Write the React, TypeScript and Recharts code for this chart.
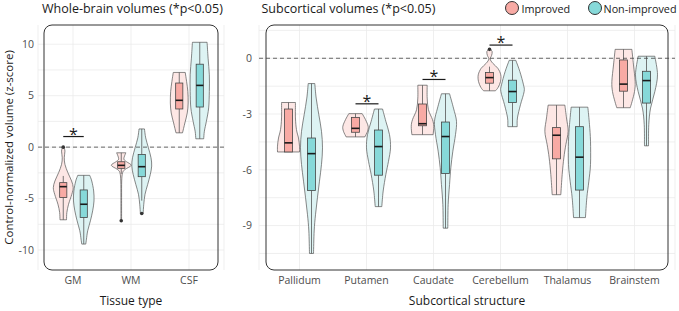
import React from 'react';
import {
  ComposedChart,
  Bar,
  XAxis,
  YAxis,
  CartesianGrid,
  ReferenceLine,
  ReferenceArea,
} from 'recharts';

// ---------------- DATA ----------------
// box stats: [lower whisker, Q1, median, Q3, upper whisker]
const tissueCategories = ['GM', 'WM', 'CSF'];
const tissueImprovedBox = [
  [-7.06, -4.9, -3.84, -3.45, -2.8],
  [-2.6, -2.06, -1.77, -1.42, -0.55],
  [1.39, 3.71, 4.55, 6.23, 7.26],
];
const tissueNonImprovedBox = [
  [-9.42, -6.84, -5.55, -4.16, -2.74],
  [-5.2, -2.87, -1.9, -0.71, 1.77],
  [0.81, 3.9, 6.0, 8.06, 10.19],
];
const tissueImprovedOutliers = [[0], [-7.16], []];
const tissueNonImprovedOutliers = [[], [-6.45], []];
// violin density profiles: [value, relative density]
const tissueImprovedViolin = [
  [[0, 0.06], [-0.39, 0.15], [-1.03, 0.09], [-1.68, 0.15], [-2.48, 0.41], [-3.29, 0.74], [-3.94, 0.88], [-4.58, 0.76], [-5.55, 0.47], [-6.35, 0.32], [-7.06, 0.29]],
  [[-0.55, 0.41], [-0.87, 0.29], [-1.19, 0.24], [-1.42, 0.47], [-1.77, 0.88], [-2.16, 0.35], [-2.48, 0.12], [-3.29, 0.04], [-4.9, 0.03], [-7.16, 0.03]],
  [[7.26, 0.53], [6.39, 0.65], [5.42, 0.76], [4.29, 0.79], [3.32, 0.71], [2.35, 0.5], [1.39, 0.29]],
];
const tissueNonImprovedViolin = [
  [[-2.74, 0.53], [-3.29, 0.71], [-4.26, 0.88], [-5.23, 0.91], [-6.19, 0.79], [-7.16, 0.59], [-8.13, 0.35], [-8.94, 0.24], [-9.42, 0.18]],
  [[1.77, 0.24], [0.9, 0.35], [-0.06, 0.59], [-1.03, 0.82], [-1.84, 0.88], [-2.65, 0.76], [-3.61, 0.53], [-4.58, 0.29], [-5.55, 0.18], [-6.45, 0.12]],
  [[10.19, 0.65], [8.65, 0.74], [7.03, 0.85], [5.42, 0.85], [3.81, 0.79], [2.52, 0.59], [1.55, 0.41], [0.81, 0.35]],
];
const tissueSignificance = [1.03, null, null];
const tissueDomain = [-11.94, 11.87];
const tissueTicks = [-10, -5, 0, 5, 10];
const tissueGrid = [-10, -7.5, -5, -2.5, 0, 2.5, 5, 7.5, 10];

const subCategories = ['Pallidum', 'Putamen', 'Caudate', 'Cerebellum', 'Thalamus', 'Brainstem'];
const subImprovedBox = [
  [-5.04, -5.04, -4.55, -2.73, -2.38],
  [-4.23, -3.98, -3.77, -3.18, -2.98],
  [-4.11, -3.63, -3.52, -2.46, -1.45],
  [-1.75, -1.34, -1.04, -0.77, -0.45],
  [-7.34, -5.41, -4.14, -3.73, -2.52],
  [-2.66, -1.77, -1.39, -0.09, 0.48],
];
const subNonImprovedBox = [
  [-10.5, -7.11, -5.13, -4.29, -1.36],
  [-7.98, -6.29, -4.75, -3.86, -2.73],
  [-9.14, -6.2, -4.21, -3.43, -1.91],
  [-3.68, -2.38, -1.79, -1.18, -0.11],
  [-8.57, -7.09, -5.32, -3.68, -2.63],
  [-4.71, -2.41, -1.2, -0.7, 0.11],
];
const subImprovedOutliers = [[], [], [], [0.48], [], []];
const subNonImprovedOutliers = [[], [], [], [], [], []];
const subImprovedViolin = [
  [[-2.38, 0.55], [-3.21, 0.55], [-3.84, 0.63], [-4.29, 0.79], [-4.73, 0.87], [-5.04, 0.87]],
  [[-2.98, 0.53], [-3.3, 0.79], [-3.66, 1.0], [-3.93, 0.95], [-4.23, 0.74]],
  [[-1.45, 0.37], [-2.14, 0.37], [-2.77, 0.47], [-3.3, 0.79], [-3.66, 0.89], [-4.11, 0.84]],
  [[0.5, 0.03], [0.36, 0.21], [0.14, 0.16], [-0.04, 0.05], [-0.27, 0.26], [-0.54, 0.66], [-0.89, 0.89], [-1.25, 0.87], [-1.57, 0.68], [-1.75, 0.47]],
  [[-2.52, 0.66], [-3.21, 0.79], [-3.93, 0.92], [-4.64, 0.74], [-5.36, 0.58], [-6.25, 0.45], [-7.34, 0.34]],
  [[0.48, 0.66], [-0.36, 0.79], [-1.25, 0.92], [-1.79, 0.87], [-2.32, 0.68], [-2.66, 0.53]],
];
const subNonImprovedViolin = [
  [[-1.36, 0.26], [-2.14, 0.37], [-3.04, 0.58], [-3.93, 0.79], [-4.82, 0.87], [-5.71, 0.79], [-6.61, 0.63], [-7.5, 0.47], [-8.39, 0.32], [-9.29, 0.21], [-10.5, 0.16]],
  [[-2.73, 0.32], [-3.39, 0.58], [-4.11, 0.87], [-4.82, 0.95], [-5.54, 0.79], [-6.25, 0.58], [-7.14, 0.37], [-7.98, 0.26]],
  [[-1.91, 0.32], [-2.68, 0.63], [-3.39, 0.87], [-4.11, 0.79], [-5.0, 0.58], [-5.89, 0.42], [-6.79, 0.32], [-7.86, 0.21], [-9.14, 0.18]],
  [[-0.11, 0.26], [-0.71, 0.58], [-1.43, 0.87], [-1.79, 0.92], [-2.5, 0.63], [-3.21, 0.39], [-3.68, 0.37]],
  [[-2.63, 0.66], [-3.57, 0.79], [-4.46, 0.87], [-5.71, 0.87], [-6.61, 0.74], [-7.5, 0.58], [-8.57, 0.47]],
  [[0.11, 0.66], [-0.89, 0.87], [-1.79, 0.66], [-2.68, 0.32], [-3.57, 0.18], [-4.71, 0.16]],
];
const subSignificance = [null, -2.45, -1.14, 0.71, null, null];
const subDomain = [-11.39, 1.79];
const subTicks = [-9, -6, -3, 0];
const subGrid = [-10.5, -9, -7.5, -6, -4.5, -3, -1.5, 0, 1.5];

const legendLabels = ['Improved', 'Non-improved'];

// ---------------- STYLE ----------------
const FONT = '"Open Sans", "Noto Sans", "DejaVu Sans", sans-serif';
const IMP = { violin: '#fde7e5', box: '#f8aaa4' };
const NON = { violin: '#ddf3f3', box: '#86d9d9' };

type Group = { box: number[]; outliers: number[]; violin: number[][] };

function extent(g: Group): [number, number] {
  const vals = [...g.box, ...g.outliers, ...g.violin.map((p) => p[0])];
  return [Math.min(...vals), Math.max(...vals)];
}

function buildRows(
  cats: string[],
  impBox: number[][],
  nonBox: number[][],
  impOut: number[][],
  nonOut: number[][],
  impV: number[][][],
  nonV: number[][][],
  sig: (number | null)[]
) {
  return cats.map((name, i) => {
    const imp: Group = { box: impBox[i], outliers: impOut[i], violin: impV[i] };
    const non: Group = { box: nonBox[i], outliers: nonOut[i], violin: nonV[i] };
    return { name, imp, non, impRange: extent(imp), nonRange: extent(non), sig: sig[i] };
  });
}

const tissueRows = buildRows(
  tissueCategories,
  tissueImprovedBox,
  tissueNonImprovedBox,
  tissueImprovedOutliers,
  tissueNonImprovedOutliers,
  tissueImprovedViolin,
  tissueNonImprovedViolin,
  tissueSignificance
);
const subRows = buildRows(
  subCategories,
  subImprovedBox,
  subNonImprovedBox,
  subImprovedOutliers,
  subNonImprovedOutliers,
  subImprovedViolin,
  subNonImprovedViolin,
  subSignificance
);

function smooth(pts: number[][]): string {
  let d = '';
  for (let i = 0; i < pts.length - 1; i++) {
    const p0 = pts[i - 1] || pts[i];
    const p1 = pts[i];
    const p2 = pts[i + 1];
    const p3 = pts[i + 2] || p2;
    const c1x = p1[0] + (p2[0] - p0[0]) / 6;
    const c1y = p1[1] + (p2[1] - p0[1]) / 6;
    const c2x = p2[0] - (p3[0] - p1[0]) / 6;
    const c2y = p2[1] - (p3[1] - p1[1]) / 6;
    d += ` C${c1x},${c1y} ${c2x},${c2y} ${p2[0]},${p2[1]}`;
  }
  return d;
}

function makeShape(group: 'imp' | 'non', colors: { violin: string; box: string }) {
  return (props: any) => {
    const { x, y, width, height, payload } = props;
    if (x == null || payload == null) return <g />;
    const [lo, hi] = payload[group + 'Range'];
    const top = Math.min(y, y + height);
    const bottom = Math.max(y, y + height);
    const py = (v: number) => top + ((hi - v) / (hi - lo)) * (bottom - top);
    const cx = x + width / 2;
    const g: Group = payload[group];
    const hw = width * 0.55;
    const right = g.violin.map(([v, d]) => [cx + d * hw, py(v)]);
    const left = g.violin.map(([v, d]) => [cx - d * hw, py(v)]).reverse();
    const path =
      `M${right[0][0]},${right[0][1]}` +
      smooth(right) +
      ` L${left[0][0]},${left[0][1]}` +
      smooth(left) +
      ' Z';
    const [wl, q1, med, q3, wh] = g.box;
    const bw = width * 0.35;
    const sig = payload.sig;
    return (
      <g>
        <path d={path} fill={colors.violin} stroke="#555" strokeWidth={0.7} />
        <line x1={cx} x2={cx} y1={py(wh)} y2={py(q3)} stroke="#555" strokeWidth={0.8} />
        <line x1={cx} x2={cx} y1={py(q1)} y2={py(wl)} stroke="#555" strokeWidth={0.8} />
        <rect
          x={cx - bw / 2}
          y={py(q3)}
          width={bw}
          height={Math.max(0.5, py(q1) - py(q3))}
          fill={colors.box}
          stroke="#444"
          strokeWidth={0.8}
        />
        <line x1={cx - bw / 2} x2={cx + bw / 2} y1={py(med)} y2={py(med)} stroke="#1a1a1a" strokeWidth={1.6} />
        {g.outliers.map((o, i) => (
          <circle key={i} cx={cx} cy={py(o)} r={1.8} fill="#333" />
        ))}
        {group === 'non' && sig != null ? (
          <g>
            <line x1={cx - width} x2={cx} y1={py(sig)} y2={py(sig)} stroke="#1a1a1a" strokeWidth={1.2} />
            <text
              x={cx - width / 2}
              y={py(sig) + 3}
              textAnchor="middle"
              fontSize={16}
              fill="#1a1a1a"
              fontFamily={FONT}
            >
              *
            </text>
          </g>
        ) : null}
      </g>
    );
  };
}

const borderShape = (p: any) => (
  <rect x={p.x} y={p.y} width={p.width} height={p.height} rx={8} ry={8} fill="none" stroke="#333" strokeWidth={1} />
);

const tickStyle = { fill: '#4d4d4d', fontSize: 10.5 };
const titleStyle: React.CSSProperties = {
  position: 'absolute',
  top: 1,
  fontSize: 12.5,
  lineHeight: '16px',
  color: '#1a1a1a',
  whiteSpace: 'nowrap',
};
const dotStyle: React.CSSProperties = {
  position: 'absolute',
  top: 1.3,
  width: 12,
  height: 12,
  borderRadius: '50%',
  border: '1px solid #333',
};

export default function App() {
  return (
    <div
      style={{
        position: 'absolute',
        left: 0,
        top: 0,
        width: 679,
        height: 311,
        background: '#fff',
        fontFamily: FONT,
        overflow: 'hidden',
      }}
    >
      <div style={{ ...titleStyle, left: 42 }}>Whole-brain volumes (*p&lt;0.05)</div>
      <div style={{ ...titleStyle, left: 261.5 }}>Subcortical volumes (*p&lt;0.05)</div>
      <div style={{ ...dotStyle, left: 505.3, background: IMP.box }} />
      <div style={{ ...titleStyle, left: 521.5, top: 0.5, fontSize: 10.8 }}>{legendLabels[0]}</div>
      <div style={{ ...dotStyle, left: 588, background: NON.box }} />
      <div style={{ ...titleStyle, left: 603.5, top: 0.5, fontSize: 10.8 }}>{legendLabels[1]}</div>

      <div style={{ position: 'absolute', left: 0, top: 0 }}>
        <ComposedChart
          width={240}
          height={311}
          data={tissueRows}
          margin={{ top: 25, right: 16, bottom: 0, left: 0 }}
          barGap={0}
          barSize={20.5}
        >
          <CartesianGrid stroke="#ebebeb" strokeWidth={0.8} horizontalValues={tissueGrid} />
          <XAxis
            dataKey="name"
            tickLine={false}
            axisLine={false}
            padding={{ left: 6, right: 6 }}
            tick={tickStyle}
            tickSize={0}
            tickMargin={7}
            interval={0}
            height={41}
            label={{ value: 'Tissue type', position: 'insideBottom', offset: 6, style: { fill: '#1a1a1a', fontSize: 12 } }}
          />
          <YAxis
            type="number"
            domain={tissueDomain}
            ticks={tissueTicks}
            allowDataOverflow
            tickLine={false}
            axisLine={false}
            tick={tickStyle}
            tickSize={0}
            tickMargin={4}
            width={38}
            label={{
              value: 'Control-normalized volume (z-score)',
              angle: -90,
              position: 'insideLeft',
              offset: 8.5,
              style: { textAnchor: 'middle', fill: '#1a1a1a', fontSize: 11.5 },
            }}
          />
          <ReferenceLine y={0} stroke="#444" strokeDasharray="4 3" strokeWidth={0.8} />
          <ReferenceArea y1={tissueDomain[0]} y2={tissueDomain[1]} ifOverflow="visible" fill="none" shape={borderShape} />
          <Bar dataKey="impRange" name={legendLabels[0]} isAnimationActive={false} shape={makeShape('imp', IMP)} />
          <Bar dataKey="nonRange" name={legendLabels[1]} isAnimationActive={false} shape={makeShape('non', NON)} />
        </ComposedChart>
      </div>

      <div style={{ position: 'absolute', left: 240, top: 0 }}>
        <ComposedChart
          width={439}
          height={311}
          data={subRows}
          margin={{ top: 25, right: 4, bottom: 0, left: 0 }}
          barGap={0}
          barSize={23}
        >
          <CartesianGrid stroke="#ebebeb" strokeWidth={0.8} horizontalValues={subGrid} />
          <XAxis
            dataKey="name"
            tickLine={false}
            axisLine={false}
            padding={{ left: 7, right: 7 }}
            tick={tickStyle}
            tickSize={0}
            tickMargin={7}
            interval={0}
            height={41}
            label={{ value: 'Subcortical structure', position: 'insideBottom', offset: 6, style: { fill: '#1a1a1a', fontSize: 12 } }}
          />
          <YAxis
            type="number"
            domain={subDomain}
            ticks={subTicks}
            allowDataOverflow
            tickLine={false}
            axisLine={false}
            tick={tickStyle}
            tickSize={0}
            tickMargin={7}
            width={19}
          />
          <ReferenceLine y={0} stroke="#444" strokeDasharray="4 3" strokeWidth={0.8} />
          <ReferenceArea y1={subDomain[0]} y2={subDomain[1]} ifOverflow="visible" fill="none" shape={borderShape} />
          <Bar dataKey="impRange" name={legendLabels[0]} isAnimationActive={false} shape={makeShape('imp', IMP)} />
          <Bar dataKey="nonRange" name={legendLabels[1]} isAnimationActive={false} shape={makeShape('non', NON)} />
        </ComposedChart>
      </div>
    </div>
  );
}
